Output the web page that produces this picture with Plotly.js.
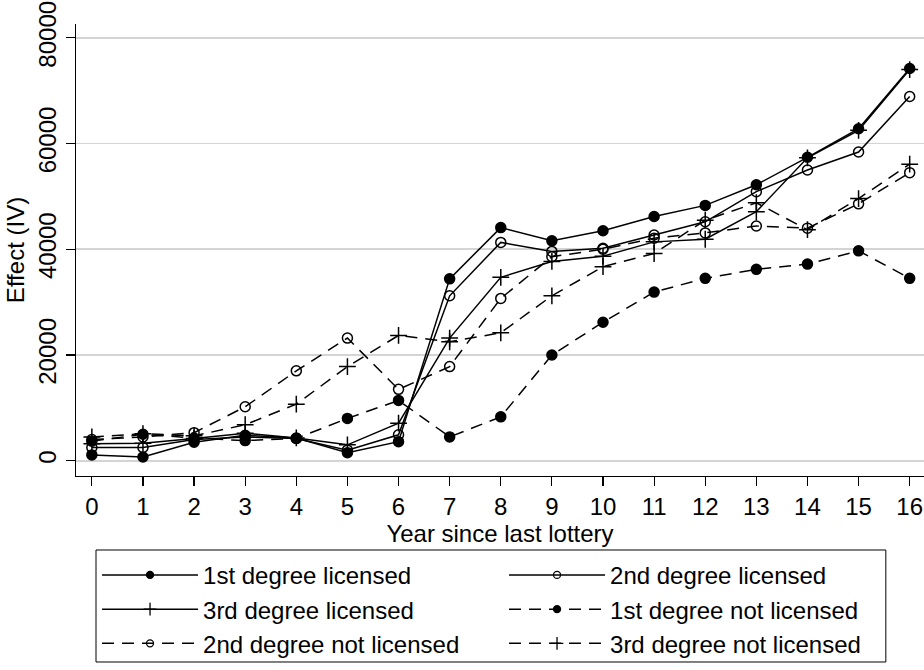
<!DOCTYPE html>
<html>
<head>
<meta charset="utf-8">
<script src="https://cdn.plot.ly/plotly-3.0.1.min.js"></script>
<style>
  html, body { margin: 0; padding: 0; background: #ffffff; }
  #chart { width: 924px; height: 670px; }
</style>
</head>
<body>
<div id="chart"></div>
<script>
// Years since the last lottery
const years = [0, 1, 2, 3, 4, 5, 6, 7, 8, 9, 10, 11, 12, 13, 14, 15, 16];
const yTicks = [0, 20000, 40000, 60000, 80000];

// IV effect estimates by degree of relation and licensing status
const firstLicensed     = [1100, 700, 3500, 4800, 4300, 1500, 3600, 34400, 44100, 41600, 43500, 46200, 48300, 52200, 57400, 62800, 74200];
const secondLicensed    = [2500, 2500, 4000, 4500, 4200, 2000, 4900, 31200, 41300, 39600, 40200, 42700, 45200, 50900, 55000, 58400, 68900];
const thirdLicensed     = [3200, 3300, 4200, 5200, 4300, 3000, 7100, 23200, 34700, 37700, 38700, 41400, 41900, 47100, 57300, 62500, 74000];
const firstNotLicensed  = [3700, 5000, 4300, 3800, 4200, 8000, 11400, 4500, 8300, 20000, 26200, 31900, 34500, 36200, 37200, 39700, 34500];
const secondNotLicensed = [4000, 4500, 5300, 10200, 17000, 23200, 13500, 17800, 30700, 38600, 40000, 42100, 43100, 44400, 44000, 48600, 54500];
const thirdNotLicensed  = [4500, 5100, 4700, 6800, 10700, 17800, 23700, 22500, 24200, 31200, 36700, 39200, 45500, 48800, 43700, 49600, 56100];

const seriesNames = [
  '1st degree licensed', '2nd degree licensed', '3rd degree licensed',
  '1st degree not licensed', '2nd degree not licensed', '3rd degree not licensed'
];

const FONT = '"Liberation Sans", Arial, Helvetica, sans-serif';
const FS = 24;
const DASH = '12px,8px';

function markerSize(symbol, big) {
  if (symbol === 'cross-thin-open') return big ? 12 : 9;
  return big ? 10 : 7;
}

// Plotted series (kept out of the legend)
function series(name, values, symbol, dash) {
  return {
    type: 'scatter',
    mode: 'lines+markers',
    name: name,
    x: years,
    y: values,
    showlegend: false,
    line: { color: '#000000', width: 1.5, dash: dash },
    marker: {
      symbol: symbol,
      size: markerSize(symbol, true),
      color: '#000000',
      line: { color: '#000000', width: 1.5 }
    }
  };
}

// Legend keys: same styling, smaller symbols
function key(name, symbol, dash) {
  return {
    type: 'scatter',
    mode: 'lines+markers',
    name: name,
    x: [null],
    y: [null],
    showlegend: true,
    hoverinfo: 'skip',
    line: { color: '#000000', width: 1.5, dash: dash },
    marker: {
      symbol: symbol,
      size: markerSize(symbol, false),
      color: '#000000',
      line: { color: '#000000', width: 1.3 }
    }
  };
}

const styles = [
  ['circle', 'solid'], ['circle-open', 'solid'], ['cross-thin-open', 'solid'],
  ['circle', DASH], ['circle-open', DASH], ['cross-thin-open', DASH]
];
const values = [firstLicensed, secondLicensed, thirdLicensed, firstNotLicensed, secondNotLicensed, thirdNotLicensed];

const data = [];
seriesNames.forEach((n, i) => data.push(series(n, values[i], styles[i][0], styles[i][1])));
seriesNames.forEach((n, i) => data.push(key(n, styles[i][0], styles[i][1])));

const layout = {
  width: 924,
  height: 670,
  margin: { l: 76, r: 0, t: 24, b: 194 },
  paper_bgcolor: '#ffffff',
  plot_bgcolor: '#ffffff',
  font: { family: FONT, size: FS, color: '#000000' },
  showlegend: true,
  xaxis: {
    range: [-0.31, 16.28],
    tickmode: 'array',
    tickvals: years,
    ticktext: years.map(String),
    ticks: 'outside',
    ticklen: 9,
    tickwidth: 1.2,
    tickcolor: '#000000',
    showline: true,
    linecolor: '#000000',
    linewidth: 1.4,
    showgrid: false,
    zeroline: false,
    tickfont: { family: FONT, size: FS },
    title: { text: 'Year since last lottery', font: { family: FONT, size: FS }, standoff: 0 }
  },
  yaxis: {
    range: [-2895, 82620],
    tickmode: 'array',
    tickvals: yTicks,
    ticktext: yTicks.map(String),
    tickangle: -90,
    ticks: 'outside',
    ticklen: 9,
    tickwidth: 1.2,
    tickcolor: '#000000',
    showline: true,
    linecolor: '#000000',
    linewidth: 1.4,
    showgrid: true,
    gridcolor: '#d4d4d4',
    gridwidth: 1.6,
    zeroline: false,
    tickfont: { family: FONT, size: FS },
    title: { text: 'Effect (IV)', font: { family: FONT, size: FS }, standoff: 2 }
  },
  legend: {
    orientation: 'h',
    x: 0.0248,
    xanchor: 'left',
    y: -0.17,
    yanchor: 'top',
    borderwidth: 0,
    bgcolor: 'rgba(0,0,0,0)',
    font: { family: FONT, size: FS },
    itemwidth: 96,
    entrywidth: 296,
    tracegroupgap: 0,
    traceorder: 'normal'
  },
  // Frame around the legend keys
  shapes: [{
    type: 'rect',
    xref: 'paper', yref: 'paper',
    x0: 0.0236, x1: 0.955,
    y0: -0.4115, y1: -0.1637,
    line: { color: '#000000', width: 1 },
    fillcolor: 'rgba(0,0,0,0)'
  }]
};

Plotly.newPlot('chart', data, layout, { displayModeBar: false, staticPlot: true });
</script>
</body>
</html>
